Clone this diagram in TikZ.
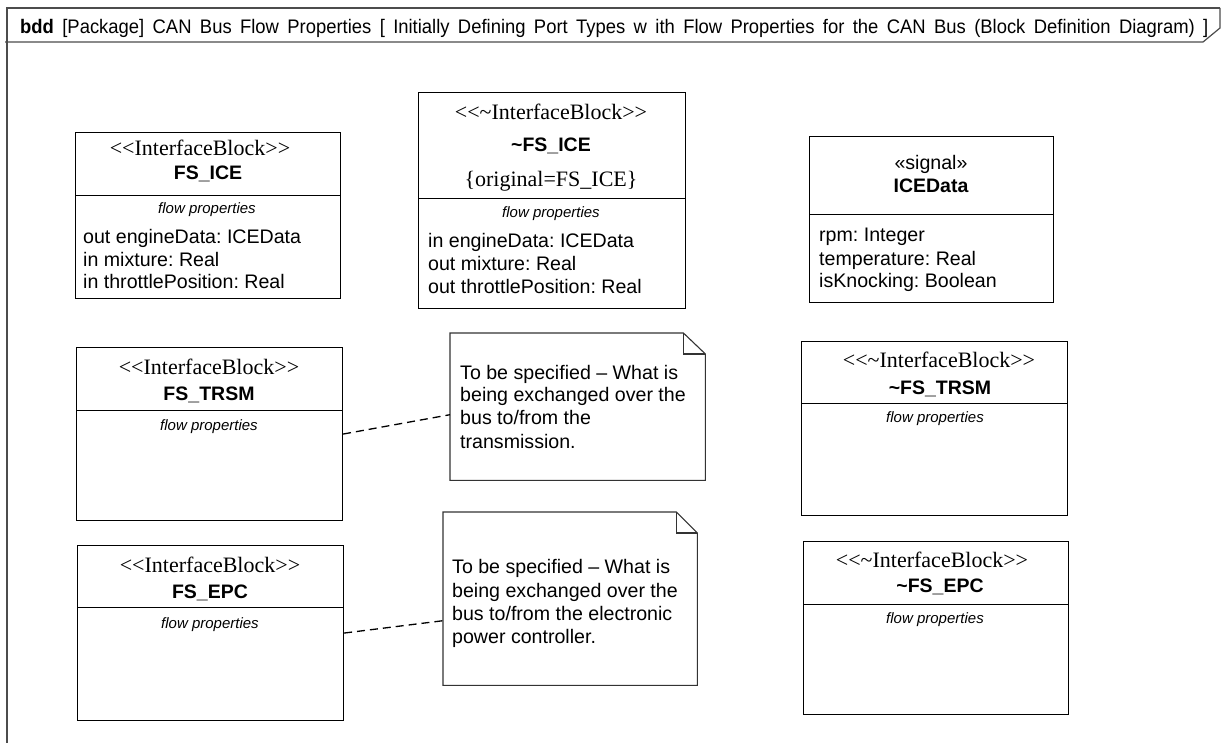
\documentclass[tikz,border=0pt]{standalone}
\usepackage{fontspec}
\setmainfont{Liberation Sans}
\newfontfamily\stereofont{Liberation Serif}
\newfontfamily\titlefont{Liberation Sans}[FakeStretch=0.94]
\usetikzlibrary{positioning,calc}
\frenchspacing

\begin{document}
\begin{tikzpicture}[x=1pt,y=-1pt,
  blockbox/.style={draw, line width=1.1pt, anchor=north west, inner sep=0pt},
  notebox/.style={anchor=north west, inner sep=0pt},
  noteline/.style={line width=1.1pt, draw=black!80},
  frameline/.style={line width=1.2pt, draw=black!70},
  stereo/.style={font=\stereofont\fontsize{22}{24}\selectfont, anchor=base, inner sep=0pt},
  blockname/.style={font=\bfseries\fontsize{19.5}{22}\selectfont, anchor=base, inner sep=0pt},
  compart/.style={font=\itshape\fontsize{15}{17}\selectfont, anchor=base, inner sep=0pt},
  prop/.style={font=\fontsize{19.6}{22}\selectfont, anchor=base west, inner sep=0pt},
  anchorline/.style={dash pattern=on 8pt off 5pt, line width=1.3pt}]
  \useasboundingbox (0,0) rectangle (1224,743);

  % Diagram frame and heading
  \draw[frameline] (1220,8) -- (7,8) -- (7,743);
  \draw[frameline] (5,42) -- (1203,42) -- (1220,28) -- (1220,8);
  \node[anchor=base west, inner sep=0pt, font=\titlefont\fontsize{19.6}{22}\selectfont] (title) at (20,34)
    {\spaceskip=8.4pt\textbf{bdd} [Package] CAN Bus Flow Properties [ Initially Defining Port Types w ith Flow Properties for the CAN Bus (Block Definition Diagram) ]};

  % FS_ICE
  \node[blockbox, minimum width=265pt, minimum height=166pt] (fsice) at (75,132) {};
  \draw (fsice.west |- 0,195) -- (fsice.east |- 0,195);
  \node[stereo] (fsicest) at (200,156) {<<InterfaceBlock>>};
  \node[blockname] (fsicenm) at (208,180) {FS\_ICE};
  \node[compart] (fsicefp) at (207,214) {flow properties};
  \node[prop] (fsicep1) at (83,244) {out engineData: ICEData};
  \node[prop] (fsicep2) at (83,267) {in mixture: Real};
  \node[prop] (fsicep3) at (83,289) {in throttlePosition: Real};

  % ~FS_ICE
  \node[blockbox, minimum width=267pt, minimum height=216pt] (cfsice) at (418,92) {};
  \draw (cfsice.west |- 0,198) -- (cfsice.east |- 0,198);
  \node[stereo] (cfsicest) at (551,120) {<<\char`\~InterfaceBlock>>};
  \node[blockname] (cfsicenm) at (551,152) {\char`\~FS\_ICE};
  \node[stereo] (cfsiceor) at (551,187) {\{original=FS\_ICE\}};
  \node[compart] (cfsicefp) at (551,218) {flow properties};
  \node[prop] (cfsicep1) at (428,248) {in engineData: ICEData};
  \node[prop] (cfsicep2) at (428,271) {out mixture: Real};
  \node[prop] (cfsicep3) at (428,294) {out throttlePosition: Real};

  % ICEData
  \node[blockbox, minimum width=244pt, minimum height=166pt] (icedata) at (809,136) {};
  \draw (icedata.west |- 0,214) -- (icedata.east |- 0,214);
  \node[prop, anchor=base] (icest) at (931,170) {«signal»};
  \node[blockname] (icenm) at (931,193) {ICEData};
  \node[prop] (icep1) at (819,242) {rpm: Integer};
  \node[prop] (icep2) at (819,266) {temperature: Real};
  \node[prop] (icep3) at (819,288) {isKnocking: Boolean};

  % FS_TRSM
  \node[blockbox, minimum width=266pt, minimum height=173pt] (fstrsm) at (76,347) {};
  \draw (fstrsm.west |- 0,410) -- (fstrsm.east |- 0,410);
  \node[stereo] (fstrsmst) at (209,374) {<<InterfaceBlock>>};
  \node[blockname] (fstrsmnm) at (209,400) {FS\_TRSM};
  \node[compart] (fstrsmfp) at (209,430) {flow properties};

  % ~FS_TRSM
  \node[blockbox, minimum width=266pt, minimum height=174pt] (cfstrsm) at (801,341) {};
  \draw (cfstrsm.west |- 0,403) -- (cfstrsm.east |- 0,403);
  \node[stereo] (cfstrsmst) at (939,368) {<<\char`\~InterfaceBlock>>};
  \node[blockname] (cfstrsmnm) at (940,394) {\char`\~FS\_TRSM};
  \node[compart] (cfstrsmfp) at (935,422) {flow properties};

  % FS_EPC
  \node[blockbox, minimum width=266pt, minimum height=175pt] (fsepc) at (77,545) {};
  \draw (fsepc.west |- 0,607) -- (fsepc.east |- 0,607);
  \node[stereo] (fsepcst) at (210,572) {<<InterfaceBlock>>};
  \node[blockname] (fsepcnm) at (210,598) {FS\_EPC};
  \node[compart] (fsepcfp) at (210,628) {flow properties};

  % ~FS_EPC
  \node[blockbox, minimum width=265pt, minimum height=173pt] (cfsepc) at (803,541) {};
  \draw (cfsepc.west |- 0,604) -- (cfsepc.east |- 0,604);
  \node[stereo] (cfsepcst) at (932,567) {<<\char`\~InterfaceBlock>>};
  \node[blockname] (cfsepcnm) at (940,592) {\char`\~FS\_EPC};
  \node[compart] (cfsepcfp) at (935,623) {flow properties};

  % Notes
  \node[notebox, minimum width=255pt, minimum height=147pt] (notetrsm) at (450,333) {};
  \draw[noteline] (notetrsm.north west) -- ([xshift=-22pt]notetrsm.north east) -- ([yshift=-21pt]notetrsm.north east)
    -- (notetrsm.south east) -- (notetrsm.south west) -- cycle;
  \draw[noteline] ([xshift=-22pt]notetrsm.north east) |- ([yshift=-21pt]notetrsm.north east);
  \node[prop] (notetrsm1) at (460,379) {To be specified – What is};
  \node[prop] (notetrsm2) at (460,402) {being exchanged over the};
  \node[prop] (notetrsm3) at (460,424) {bus to/from the};
  \node[prop] (notetrsm4) at (460,448) {transmission.};

  \node[notebox, minimum width=254pt, minimum height=173pt] (noteepc) at (443,512) {};
  \draw[noteline] (noteepc.north west) -- ([xshift=-21pt]noteepc.north east) -- ([yshift=-21pt]noteepc.north east)
    -- (noteepc.south east) -- (noteepc.south west) -- cycle;
  \draw[noteline] ([xshift=-21pt]noteepc.north east) |- ([yshift=-21pt]noteepc.north east);
  \node[prop] (noteepc1) at (452,573) {To be specified – What is};
  \node[prop] (noteepc2) at (452,597) {being exchanged over the};
  \node[prop] (noteepc3) at (452,620) {bus to/from the electronic};
  \node[prop] (noteepc4) at (452,643) {power controller.};

  % Anchors to notes
  \draw[anchorline] (fstrsm.east) -- ([yshift=-8pt]notetrsm.west);
  \draw[anchorline] (fsepc.east) -- ([yshift=-22pt]noteepc.west);
\end{tikzpicture}
\end{document}
